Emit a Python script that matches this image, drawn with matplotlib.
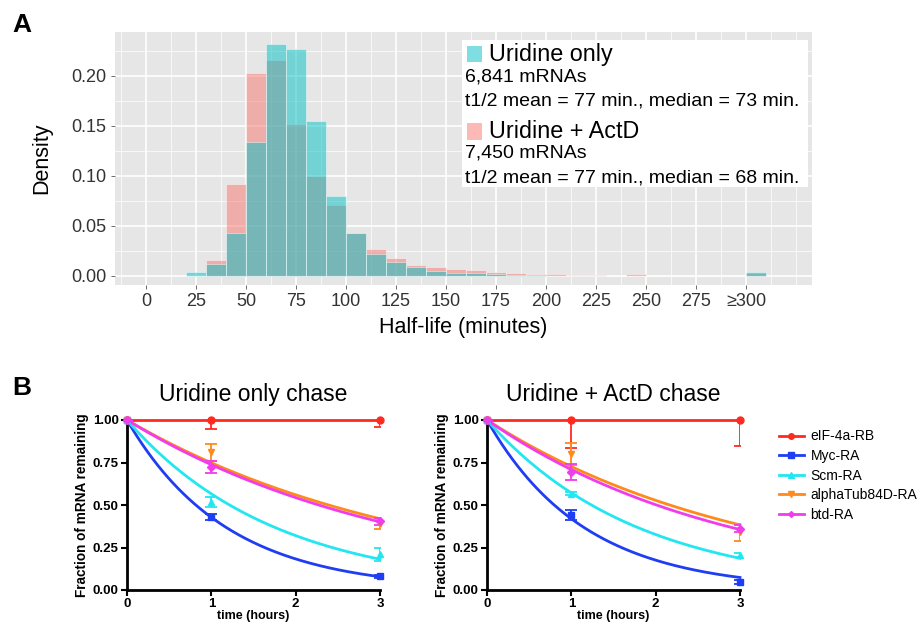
import numpy as np
import matplotlib
matplotlib.use('Agg')
import matplotlib.pyplot as plt
from matplotlib.lines import Line2D
from matplotlib.patches import Rectangle
from matplotlib.ticker import MultipleLocator

plt.rcParams['font.family'] = ['Liberation Sans', 'DejaVu Sans']

# ---- panel A: half-life histogram (bin left edges, density per 10 min bin) ----
bin_left = [20, 30, 40, 50, 60, 70, 80, 90, 100, 110, 120, 130, 140, 150, 160,
            170, 180, 190, 200, 210, 220, 230, 240, 250, 260, 270, 280, 290, 300]
dens_uridine = [0.004, 0.012, 0.043, 0.134, 0.232, 0.227, 0.155, 0.080, 0.043,
                0.022, 0.014, 0.0085, 0.0047, 0.003, 0.0024, 0.0014, 0.0005,
                0.0003, 0, 0, 0, 0, 0, 0, 0, 0, 0, 0, 0.0035]
dens_actd = [0.0, 0.016, 0.092, 0.203, 0.216, 0.152, 0.100, 0.071, 0.043,
             0.027, 0.018, 0.0107, 0.009, 0.0067, 0.0054, 0.004, 0.0027,
             0.0017, 0.0013, 0.0005, 0.0004, 0.0002, 0.0013, 0.0002, 0.0001,
             0.0001, 0.0001, 0.0001, 0.003]
xtick_pos = [0, 25, 50, 75, 100, 125, 150, 175, 200, 225, 250, 275, 300]
xtick_lab = ['0', '25', '50', '75', '100', '125', '150', '175', '200', '225',
             '250', '275', '\u2265300']
legend_a = [('Uridine only', '6,841 mRNAs', 't1/2 mean = 77 min., median = 73 min.'),
            ('Uridine + ActD', '7,450 mRNAs', 't1/2 mean = 77 min., median = 68 min.')]

# ---- panel B: decay time courses ----
times = [0, 1, 3]
genes = ['eIF-4a-RB', 'Myc-RA', 'Scm-RA', 'alphaTub84D-RA', 'btd-RA']
gene_colors = ['#FF2A1F', '#1F3DF2', '#22E6F0', '#FF8A1A', '#F03CEB']
gene_markers = ['o', 's', '^', 'v', 'D']
marker_sizes = [5, 5, 5, 5, 4]

uri_mean = [[1, 1.0, 1.0], [1, 0.43, 0.08], [1, 0.52, 0.21], [1, 0.81, 0.39], [1, 0.725, 0.405]]
uri_err = [[0, 0.05, 0.04], [0, 0.02, 0.01], [0, 0.03, 0.04], [0, 0.05, 0.03], [0, 0.035, 0.02]]
uri_rate = [0.0, 0.85, 0.57, 0.29, 0.305]   # fitted one-phase decay constants (1/h)

actd_mean = [[1, 1.0, 1.0], [1, 0.44, 0.047], [1, 0.567, 0.205], [1, 0.80, 0.34], [1, 0.695, 0.36]]
actd_err = [[0, 0.165, 0.15], [0, 0.03, 0.01], [0, 0.01, 0.01], [0, 0.065, 0.05], [0, 0.045, 0.02]]
actd_rate = [0.0, 0.87, 0.56, 0.32, 0.345]

W, H = 922, 632
fig = plt.figure(figsize=(W / 100, H / 100), dpi=100)


def fbox(x0, y0, x1, y1):
    # pixel box (top-left origin) -> figure fraction rect
    return [x0 / W, 1 - y1 / H, (x1 - x0) / W, (y1 - y0) / H]


# ================= Panel A =================
ax = fig.add_axes(fbox(115, 32, 812, 285))
ax.set_facecolor('#E6E6E6')
ax.bar(bin_left, dens_actd, width=10, align='edge', color='#F8766D', alpha=0.5,
       edgecolor='white', linewidth=0.6, zorder=2)
ax.bar(bin_left, dens_uridine, width=10, align='edge', color='#00BFC4', alpha=0.5,
       edgecolor='white', linewidth=0.6, zorder=3)
ax.set_xlim(-15.5, 333)
ax.set_ylim(-0.0093, 0.2437)
ax.set_xticks(xtick_pos)
ax.set_xticklabels(xtick_lab)
ax.set_yticks([0, 0.05, 0.10, 0.15, 0.20])
ax.set_yticklabels(['0.00', '0.05', '0.10', '0.15', '0.20'])
ax.xaxis.set_minor_locator(MultipleLocator(12.5))
ax.yaxis.set_minor_locator(MultipleLocator(0.025))
ax.grid(which='major', color='white', linewidth=1.2, zorder=0)
ax.grid(which='minor', color='white', linewidth=0.5, zorder=0)
ax.set_axisbelow(True)
for s in ax.spines.values():
    s.set_visible(False)
ax.tick_params(which='major', length=3, width=0.6, color='#555555',
               labelsize=13, labelcolor='#333333', pad=3)
ax.tick_params(which='minor', length=0)
ax.set_xlabel('Half-life (minutes)', fontsize=15.5, labelpad=5)
ax.set_ylabel('Density', fontsize=15.5, labelpad=14)

# legend box of panel A
fig.patches.append(Rectangle((462 / W, 1 - 187 / H), (808 - 462) / W, (187 - 40) / H,
                             transform=fig.transFigure, facecolor='white',
                             edgecolor='none', zorder=5))
leg_colors = ['#00BFC4', '#F8766D']
row_y = [(54, 77, 100.5), (131.5, 153, 177.5)]
for (name, count, stats), col, (y1, y2, y3) in zip(legend_a, leg_colors, row_y):
    fig.patches.append(Rectangle((467 / W, 1 - (y1 + 8) / H), 15 / W, 16 / H,
                                 transform=fig.transFigure, facecolor=col,
                                 alpha=0.5, edgecolor='none', zorder=6))
    fig.text(489 / W, 1 - y1 / H, name, fontsize=16.8, va='center', ha='left', zorder=7)
    fig.text(465 / W, 1 - y2 / H, count, fontsize=14, va='center', ha='left', zorder=7)
    fig.text(465 / W, 1 - y3 / H, stats, fontsize=14, va='center', ha='left', zorder=7)

fig.text(12 / W, 1 - 25 / H, 'A', fontsize=19, fontweight='bold', va='center')
fig.text(12 / W, 1 - 388 / H, 'B', fontsize=19, fontweight='bold', va='center')

# ================= Panel B =================
tfit = np.linspace(0, 3, 200)


def decay_panel(axb, means, errs, rates, title):
    for m, e, k, c, mk, ms in zip(means, errs, rates, gene_colors, gene_markers, marker_sizes):
        axb.plot(tfit, np.exp(-k * tfit), color=c, linewidth=2, zorder=3, clip_on=False)
        line, caps, bars = axb.errorbar(times, m, yerr=e, fmt=mk, color=c, markersize=ms,
                                        capsize=4, elinewidth=1.3, capthick=1.3, zorder=4)
        line.set_clip_on(False)
    axb.set_xlim(0, 3)
    axb.set_ylim(0, 1)
    axb.set_xticks([0, 1, 2, 3])
    axb.set_yticks([0, 0.25, 0.5, 0.75, 1.0])
    axb.set_yticklabels(['0.00', '0.25', '0.50', '0.75', '1.00'])
    for s in ['top', 'right']:
        axb.spines[s].set_visible(False)
    for s in ['left', 'bottom']:
        axb.spines[s].set_linewidth(2)
    axb.tick_params(length=4, width=1.5, labelsize=9.5, pad=2)
    for lab in axb.get_xticklabels() + axb.get_yticklabels():
        lab.set_fontweight('bold')
    axb.set_xlabel('time (hours)', fontsize=9, fontweight='bold', labelpad=0)
    axb.set_ylabel('Fraction of mRNA remaining', fontsize=9.8, fontweight='bold', labelpad=3)
    axb.set_title(title, fontsize=16.5, pad=14)


axl = fig.add_axes(fbox(127, 420, 380, 590))
decay_panel(axl, uri_mean, uri_err, uri_rate, 'Uridine only chase')
axr = fig.add_axes(fbox(487, 420, 740, 590))
decay_panel(axr, actd_mean, actd_err, actd_rate, 'Uridine + ActD chase')

handles = [Line2D([], [], color=c, marker=mk, markersize=ms - 1, linewidth=2)
           for c, mk, ms in zip(gene_colors, gene_markers, marker_sizes)]
fig.legend(handles, genes, loc='upper left', bbox_to_anchor=(766 / W, 1 - 417 / H),
           frameon=False, fontsize=10, handlelength=1.8, labelspacing=0.4,
           handletextpad=0.5)

fig.savefig('out.png', dpi=100)
